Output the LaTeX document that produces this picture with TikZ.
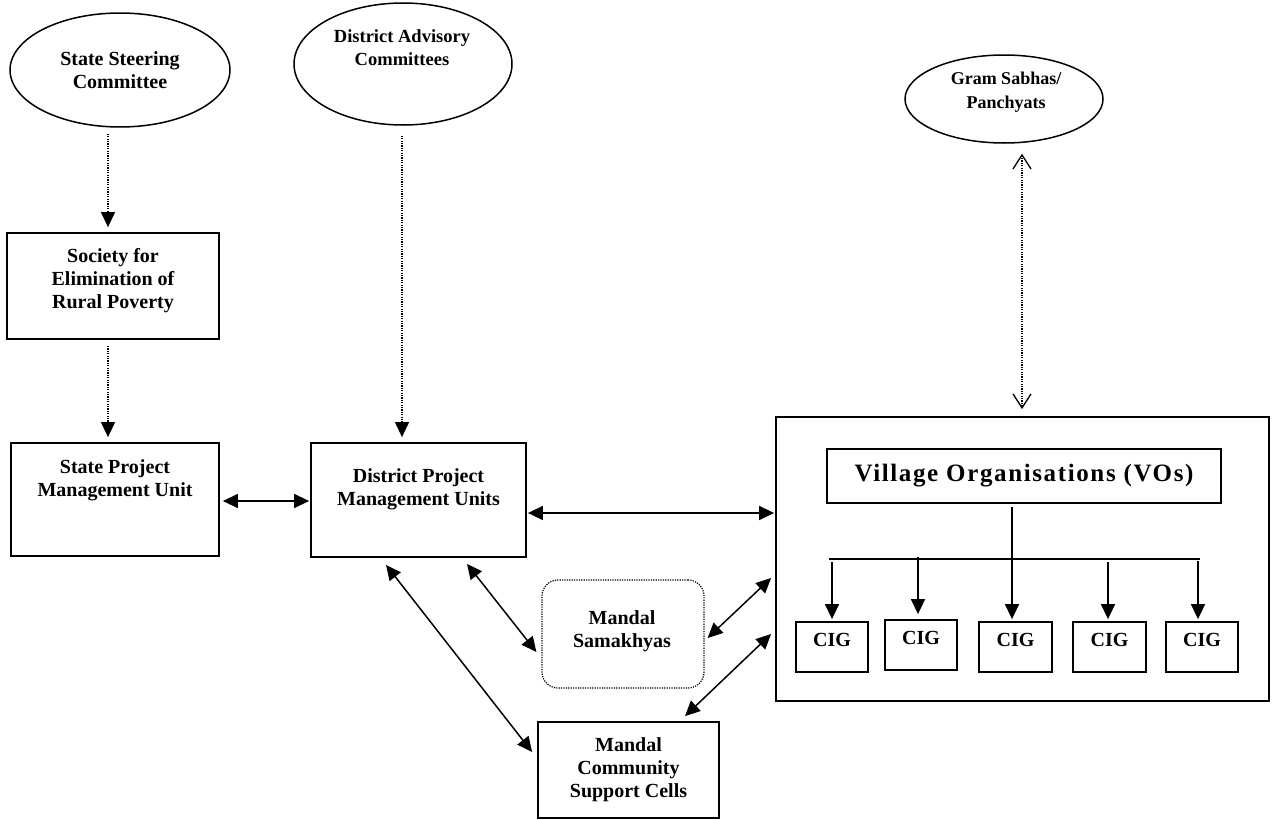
\documentclass[tikz,border=0pt]{standalone}
\usepackage{fontspec}
\setmainfont{Liberation Serif}
\usetikzlibrary{arrows.meta,shapes.geometric,calc}
\begin{document}
\begin{tikzpicture}[x=1pt,y=-1pt,
  box/.style={draw, line width=1.8pt, inner sep=0pt, rectangle},
  oval/.style={draw, line width=1.5pt, ellipse, inner sep=0pt},
  txt/.style={font=\fontsize{20}{23}\selectfont\bfseries, align=center, inner sep=0pt},
  dotline/.style={line width=1.2pt, dash pattern=on 1.2pt off 1.2pt},
  conn/.style={line width=1.5pt},
  headarrow/.style={-{Triangle[length=15pt,width=14pt]}},
  bothheads/.style={{Triangle[length=15pt,width=14pt]}-{Triangle[length=15pt,width=14pt]}},
  openheads/.style={{Straight Barb[length=14pt,width=18pt,line width=1.3pt]}-{Straight Barb[length=14pt,width=18pt,line width=1.3pt]}}
]
\useasboundingbox (0,0) rectangle (1273,819);

% ellipses
\node[oval, minimum width=220pt, minimum height=114pt] (ssc) at (120,70) {};
\node[txt, anchor=north] (ssct) at (120,51) {State Steering\\Committee};
\node[oval, minimum width=218pt, minimum height=122pt] (dac) at (403,64) {};
\node[txt, font=\fontsize{18.5}{23}\selectfont\bfseries, anchor=north] (dact) at (402,29) {District Advisory\\Committees};
\node[oval, minimum width=198pt, minimum height=88pt] (gram) at (1004,99) {};
\node[txt, font=\fontsize{18}{24}\selectfont\bfseries, anchor=north] (gramt) at (1006,72) {Gram Sabhas/\\Panchyats};

% boxes
\node[box, minimum width=212pt, minimum height=106pt] (ser) at (113,286) {};
\node[txt, anchor=north] (sert) at (113,248) {Society for\\Elimination of\\Rural Poverty};
\node[box, minimum width=208pt, minimum height=113pt] (spmu) at (115,499.5) {};
\node[txt, anchor=north] (spmut) at (115,459) {State Project\\Management Unit};
\node[box, minimum width=215pt, minimum height=114pt] (dpmu) at (418.5,500) {};
\node[txt, anchor=north] (dpmut) at (418.5,468) {District Project\\Management Units};
\node[draw, line width=1.2pt, dash pattern=on 1.2pt off 1.2pt, rounded corners=16pt, inner sep=0pt,
      minimum width=162pt, minimum height=108pt] (ms) at (623,634) {};
\node[txt, anchor=north] (mst) at (622,610) {Mandal\\Samakhyas};
\node[box, minimum width=181pt, minimum height=96pt] (mcsc) at (628.5,770) {};
\node[txt, anchor=north] (mcsct) at (628.5,737) {Mandal\\Community\\Support Cells};

% village organisations
\node[box, minimum width=493pt, minimum height=284pt] (village) at (1022.5,559) {};
\node[box, minimum width=394pt, minimum height=54pt, font=\fontsize{25}{28}\selectfont\bfseries] (vo) at (1024,476)
  {\addfontfeature{LetterSpace=6.5}Village Organisations (VOs)};
\node[box, minimum width=72pt, minimum height=50pt] (cig1) at (832,647) {};
\node[box, minimum width=72pt, minimum height=50pt] (cig2) at (921,645) {};
\node[box, minimum width=73pt, minimum height=50pt] (cig3) at (1015.5,647) {};
\node[box, minimum width=73pt, minimum height=50pt] (cig4) at (1109.5,647) {};
\node[box, minimum width=72pt, minimum height=50pt] (cig5) at (1202,647) {};
\node[txt, anchor=north] (cig1t) at (832,633) {CIG};
\node[txt, anchor=north] (cig2t) at (921,631) {CIG};
\node[txt, anchor=north] (cig3t) at (1015.5,633) {CIG};
\node[txt, anchor=north] (cig4t) at (1109.5,633) {CIG};
\node[txt, anchor=north] (cig5t) at (1202,633) {CIG};

% dotted connectors
\draw[dotline, headarrow] ($(ssc.south)+(-12,6)$) -- ($(ser.north)+(-5,-5)$);
\draw[dotline, headarrow] ($(ser.south)+(-5,6)$) -- ($(spmu.north)+(-7,-5)$);
\draw[dotline, headarrow] ($(dac.south)+(-1,10)$) -- ($(dpmu.north)+(-16.5,-5)$);
\draw[dotline, openheads] ($(gram.south)+(18,10)$) -- ($(village.north)+(-0.5,-7)$);

% solid double connectors
\draw[conn, bothheads] ($(spmu.east)+(3,1.5)$) -- ($(dpmu.west)+(-1,1)$);
\draw[conn, bothheads] ($(dpmu.east)+(1,13)$) -- ($(village.west)+(-1,-46)$);
\draw[conn, bothheads] ($(dpmu.south)+(48.5,6)$) -- ($(ms.west)+(-5,18)$);
\draw[conn, bothheads] ($(dpmu.south)+(-32.5,7)$) -- ($(mcsc.west)+(-5,-18)$);
\draw[conn, bothheads] ($(ms.east)+(3,4)$) -- ($(village.west)+(-4,19)$);
\draw[conn, bothheads] ($(mcsc.north)+(56.5,-5)$) -- ($(village.west)+(-4,75)$);

% tree
\coordinate (busL) at (829,559);
\coordinate (busR) at (1200,559);
\draw[conn] (busL) -- (busR);
\draw[conn, headarrow] ($(vo.south)+(-12,3)$) -- ($(cig3.north)+(-3.5,-2)$);
\draw[conn, headarrow] ($(cig1.north)+(0,-59)$) -- ($(cig1.north)+(0,-2)$);
\draw[conn, headarrow] ($(cig2.north)+(-3,-62)$) -- ($(cig2.north)+(-3,-5)$);
\draw[conn, headarrow] ($(cig4.north)+(-1.5,-59)$) -- ($(cig4.north)+(-1.5,-2)$);
\draw[conn, headarrow] ($(cig5.north)+(-4,-60)$) -- ($(cig5.north)+(-4,-2)$);
\end{tikzpicture}
\end{document}
